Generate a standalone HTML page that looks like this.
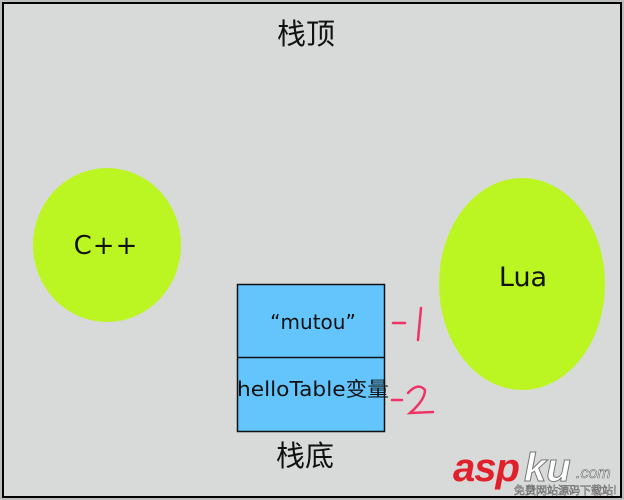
<!DOCTYPE html>
<html><head><meta charset="utf-8"><style>
html,body{margin:0;padding:0;}
body{width:624px;height:500px;overflow:hidden;background:#bdbdbd;}
</style></head><body>
<svg width="624" height="500" xmlns="http://www.w3.org/2000/svg" style="display:block">
<rect x="0" y="0" width="624" height="500" fill="#bdbdbd"/>
<rect x="3" y="3" width="618" height="494" fill="#d8dad9" stroke="#000" stroke-width="2"/>
<text x="306" y="44" font-size="29" font-family="'Liberation Sans','Noto Sans CJK SC',sans-serif" text-anchor="middle" fill="#111">栈顶</text>
<ellipse cx="107" cy="245" rx="74" ry="77" fill="#bbf522"/>
<text x="106" y="254" font-size="26" font-family="'DejaVu Sans','Liberation Sans',sans-serif" text-anchor="middle" fill="#111" letter-spacing="1">C++</text>
<ellipse cx="522" cy="284" rx="83" ry="106" fill="#bbf522"/>
<text x="523" y="286" font-size="27" font-family="'DejaVu Sans','Liberation Sans',sans-serif" text-anchor="middle" fill="#111">Lua</text>
<rect x="237.5" y="284.5" width="147" height="147" fill="#63c5fc" stroke="#111" stroke-width="1.5"/>
<line x1="237.5" y1="357.5" x2="384.5" y2="357.5" stroke="#111" stroke-width="1.5"/>
<text x="313" y="329" font-size="20" font-family="'DejaVu Sans','Liberation Sans',sans-serif" text-anchor="middle" fill="#111">“mutou”</text>
<text x="313" y="396" font-size="20" font-family="'DejaVu Sans','Liberation Sans','Noto Sans CJK SC',sans-serif" text-anchor="middle" fill="#111" textLength="152" lengthAdjust="spacingAndGlyphs">helloTable变量</text>
<g stroke="#ee3366" stroke-width="2.5" fill="none" stroke-linecap="round">
<path d="M393 323 L405 323"/>
<path d="M421 308 L418 340"/>
<path d="M392 400 L402 400"/>
<path d="M408 393 Q418 382 425 390 Q425 400 410 413 L433 412"/>
</g>
<text x="305" y="466" font-size="29" font-family="'Liberation Sans','Noto Sans CJK SC',sans-serif" text-anchor="middle" fill="#111">栈底</text>
<text x="453" y="481" font-size="40" font-weight="bold" font-style="italic" font-family="'Liberation Sans',sans-serif" fill="#e0202a" letter-spacing="-1">asp</text>
<text x="524" y="481" font-size="40" font-weight="bold" font-style="italic" font-family="'Liberation Sans',sans-serif" fill="#fff" stroke="#777" stroke-width="1">ku</text>
<text x="576" y="478" font-size="16" font-style="italic" font-family="'Liberation Sans',sans-serif" fill="#fff" stroke="#666" stroke-width="0.6">.com</text>
<text x="514" y="494" font-size="11" font-family="'Noto Sans CJK SC',sans-serif" fill="#fff" stroke="#555" stroke-width="0.5">免费网站源码下载站!</text>
</svg>
</body></html>
